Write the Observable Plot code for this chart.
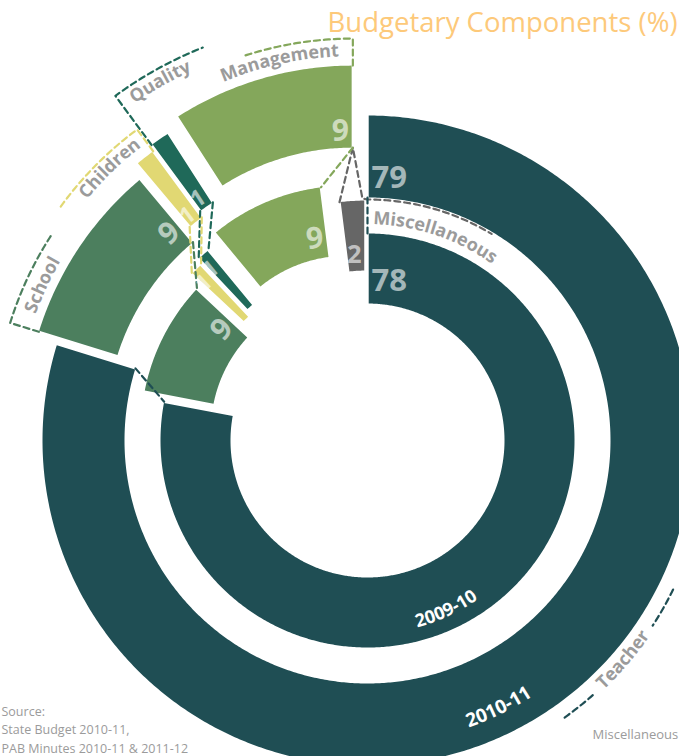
<!DOCTYPE html>
<html>
<head>
<meta charset="utf-8">
<script src="https://cdn.jsdelivr.net/npm/d3@7"></script>
<script src="https://cdn.jsdelivr.net/npm/@observablehq/plot@0.6"></script>
<style>
  html, body { margin: 0; padding: 0; background: #ffffff; }
  #chart { width: 679px; height: 756px; overflow: hidden; }
</style>
</head>
<body>
<div id="chart"></div>
<script>
// ---------------- DATA ----------------
// categories in clockwise order starting at 12 o'clock
const categories = ["Teacher", "School", "Children", "Quality", "Management", "Miscellaneous"];
const years = ["2010-11", "2009-10"];
const share2010_11 = [79, 9, 1, 1, 9, 0];
const share2009_10 = [78, 9, 1, 1, 9, 2];
const title = "Budgetary Components (%)";
const sourceLines = ["Source:", "State Budget 2010-11,", "PAB Minutes 2010-11 & 2011-12"];
const legendLabel = "Miscellaneous";

const series = {"2010-11": share2010_11, "2009-10": share2009_10};

// ---------------- LAYOUT / STYLE ----------------
const W = 679, H = 756;
const originPx = {x: 367, y: 440};
const ringRadii = {"2010-11": {r0: 243, r1: 325}, "2009-10": {r0: 137, r1: 207}};
const palette = {
  Teacher: "#1f4e54", School: "#4c7f5e", Children: "#e1d873",
  Quality: "#1f6959", Management: "#84a75b", Miscellaneous: "#666666"
};
const explode = {Teacher: 0, School: 22, Children: 35, Quality: 41, Management: 52, Miscellaneous: 33};
const padPx = 1.2;
const numberOffset = {
  "2010-11": {Teacher: 19, School: 22, Children: 10, Quality: 11, Management: 16},
  "2009-10": {Teacher: 22, School: 24, Children: 55, Quality: 54, Management: 20, Miscellaneous: 16}
};
const numberSize = {Teacher: 31, School: 30, Management: 30, Quality: 23, Children: 23, Miscellaneous: 25};
const labelGray = "#9b9b9b";
const font = "'Open Sans', 'Noto Sans', sans-serif";

// ---------------- GEOMETRY ----------------
const rad = d => d * Math.PI / 180;
const deg = r => r * 180 / Math.PI;
const polar = (cx, cy, r, a) => [cx + r * Math.sin(rad(a)), cy - r * Math.cos(rad(a))];
const arcPts = (cx, cy, r, a0, a1) => {
  const n = Math.max(2, Math.ceil(Math.abs(a1 - a0) / 0.5));
  return d3.range(n + 1).map(i => polar(cx, cy, r, a0 + (a1 - a0) * i / n));
};

function layoutRing(year) {
  const vals = series[year];
  const total = d3.sum(vals);
  const {r0, r1} = ringRadii[year];
  let acc = 0;
  const out = [];
  categories.forEach((cat, i) => {
    const a0 = acc / total * 360; acc += vals[i]; const a1 = acc / total * 360;
    if (!vals[i]) return;
    const shift = i === 0 ? 0 : -360;
    const start = a0 + shift, end = a1 + shift, mid = (start + end) / 2;
    const [cx, cy] = polar(0, 0, explode[cat], mid);
    out.push({year, cat, value: vals[i], start, end, mid, cx, cy, r0, r1});
  });
  return out;
}
const segs = years.flatMap(layoutRing);
const segOf = (year, cat) => segs.find(s => s.year === year && s.cat === cat);

function segmentPolygon(s) {
  const p1 = deg(padPx / s.r1), p0 = deg(padPx / s.r0);
  const pts = [...arcPts(s.cx, s.cy, s.r1, s.start + p1, s.end - p1),
               ...arcPts(s.cx, s.cy, s.r0, s.end - p0, s.start + p0)];
  pts.push(pts[0]);
  return pts;
}
const polyData = segs.flatMap(s => segmentPolygon(s).map(([x, y]) => ({id: s.year + s.cat, x, y, color: palette[s.cat]})));

// value labels
const numberData = segs.map(s => {
  const teacher = s.cat === "Teacher";
  const edge = teacher ? s.start : s.end;
  const r = s.r0 + numberOffset[s.year][s.cat];
  const inset = deg(4 / r);
  const [x, y] = polar(s.cx, s.cy, r, edge + (teacher ? inset : -inset));
  return {x, y, text: String(s.value), rotate: edge, size: numberSize[s.cat], teacher};
});

// dashed callouts and connectors
const dashData = [];
const addPath = (id, color, pts) => pts.forEach(([x, y]) => dashData.push({id, color, x, y}));

const calloutSpec = [
  {cat: "Management", side: "end", gap: 27, to: -18, labelOff: 9, labelAngle: -12.5},
  {cat: "Quality", side: "start", gap: 61, to: -21.5, labelOff: 43, labelAngle: -29.5},
  {cat: "Children", side: "end", gap: 27, to: -54.3, labelOff: 10, labelAngle: -44},
  {cat: "School", side: "start", gap: 30, to: -56.6, labelOff: 8, labelAngle: -65}
];
const curvedLabels = [];
calloutSpec.forEach(c => {
  const s = segOf("2010-11", c.cat);
  const edge = c.side === "end" ? s.end : s.start;
  addPath("call-" + c.cat, palette[c.cat], [polar(s.cx, s.cy, s.r1, edge), ...arcPts(s.cx, s.cy, s.r1 + c.gap, edge, c.to)]);
  curvedLabels.push({text: c.cat, cx: s.cx, cy: s.cy, r: s.r1 + c.labelOff, angle: c.labelAngle, dir: 1, fill: labelGray, size: 18, weight: 700});
});

// Miscellaneous callout (inner ring only)
{
  const misc = segOf("2009-10", "Miscellaneous");
  const mg = segOf("2010-11", "Management");
  addPath("call-misc", palette.Miscellaneous, [
    polar(misc.cx, misc.cy, misc.r1, misc.start),
    polar(mg.cx, mg.cy, mg.r0, 0),
    polar(0, 0, 242, -1.2),
    ...arcPts(0, 0, 241, 0, 31)
  ]);
  curvedLabels.push({text: categories[5], cx: 0, cy: 0, r: 216, angle: 18.5, dir: 1, fill: labelGray, size: 18, weight: 700});
}
// Teacher callout
addPath("call-teacher-a", palette.Teacher, arcPts(0, 0, 340, 116, 123));
addPath("call-teacher-b", palette.Teacher, arcPts(0, 0, 340, 138.5, 145));
curvedLabels.push({text: categories[0], cx: 0, cy: 0, r: 344, angle: 130.6, dir: -1, fill: labelGray, size: 18, weight: 700});

// year labels
curvedLabels.push({text: years[1], cx: 0, cy: 0, r: 194, angle: 155, dir: -1, fill: "#ffffff", size: 18, weight: 700});
curvedLabels.push({text: years[0], cx: 0, cy: 0, r: 305, angle: 153.8, dir: -1, fill: "#ffffff", size: 19, weight: 700});

// connectors between rings
const connectorSpec = [
  ["Management", "end"], ["Quality", "start"], ["Quality", "end"],
  ["Children", "start"], ["Children", "end"], ["School", "end"],
  ["Teacher", "start"], ["Teacher", "end"]
];
connectorSpec.forEach(([cat, side]) => {
  const o = segOf("2010-11", cat), i = segOf("2009-10", cat);
  const eo = side === "end" ? o.end : o.start, ei = side === "end" ? i.end : i.start;
  addPath("conn-" + cat + side, palette[cat], [polar(o.cx, o.cy, o.r0, eo), polar(i.cx, i.cy, i.r1, ei)]);
});

// curved text as a render-function mark using Plot's scales
function curvedTextMark(specs) {
  return (index, scales) => {
    const g = d3.create("svg:g");
    const k = scales.x(1) - scales.x(0);
    specs.forEach((s, i) => {
      const span = 70;
      const a0 = s.angle - s.dir * span, a1 = s.angle + s.dir * span;
      const [x0, y0] = polar(s.cx, s.cy, s.r, a0), [x1, y1] = polar(s.cx, s.cy, s.r, a1);
      const id = "arc-label-path-" + i;
      g.append("path").attr("id", id).attr("fill", "none").attr("stroke", "none")
        .attr("d", `M${scales.x(x0)},${scales.y(y0)}A${s.r * k},${s.r * k} 0 0 ${s.dir > 0 ? 1 : 0} ${scales.x(x1)},${scales.y(y1)}`);
      g.append("text")
        .attr("fill", s.fill).attr("font-size", s.size).attr("font-weight", s.weight)
        .attr("font-family", font)
        .append("textPath").attr("href", "#" + id).attr("startOffset", "50%").attr("text-anchor", "middle")
        .text(s.text);
    });
    return g.node();
  };
}

const chart = Plot.plot({
  width: W, height: H, margin: 0,
  style: {background: "#ffffff", fontFamily: font, overflow: "visible"},
  x: {domain: [-originPx.x, W - originPx.x], range: [0, W], axis: null},
  y: {domain: [-originPx.y, H - originPx.y], range: [0, H], axis: null},
  color: {type: "identity"},
  marks: [
    Plot.line(polyData, {x: "x", y: "y", z: "id", fill: "color", stroke: "none", curve: "linear"}),
    Plot.line(dashData, {x: "x", y: "y", z: "id", stroke: "color", strokeWidth: 2.2, strokeDasharray: "6,4", fill: "none"}),
    Plot.text(numberData.filter(d => d.teacher), {x: "x", y: "y", text: "text", rotate: "rotate", fontSize: "size",
      textAnchor: "start", fill: "#ffffff", fillOpacity: 0.6, fontWeight: 700, fontFamily: font}),
    Plot.text(numberData.filter(d => !d.teacher), {x: "x", y: "y", text: "text", rotate: "rotate", fontSize: "size",
      textAnchor: "end", fill: "#ffffff", fillOpacity: 0.6, fontWeight: 700, fontFamily: font}),
    curvedTextMark(curvedLabels),
    Plot.text([title], {frameAnchor: "top-right", text: d => d, textAnchor: "end", lineAnchor: "bottom",
      dx: -2, dy: 31, fontSize: 27.5, fill: "#fdc97a", fontFamily: font}),
    Plot.text([sourceLines.join("\n")], {frameAnchor: "bottom-left", text: d => d, textAnchor: "start", lineAnchor: "bottom",
      lineHeight: 1.45, dx: 1, dy: -4, fontSize: 12.5, fill: labelGray, fontFamily: font}),
    Plot.text([legendLabel], {frameAnchor: "bottom-right", text: d => d, textAnchor: "start", lineAnchor: "bottom",
      dx: -87, dy: -18, fontSize: 13, fill: labelGray, fontFamily: font})
  ]
});
document.getElementById("chart").appendChild(chart);
</script>
</body>
</html>
